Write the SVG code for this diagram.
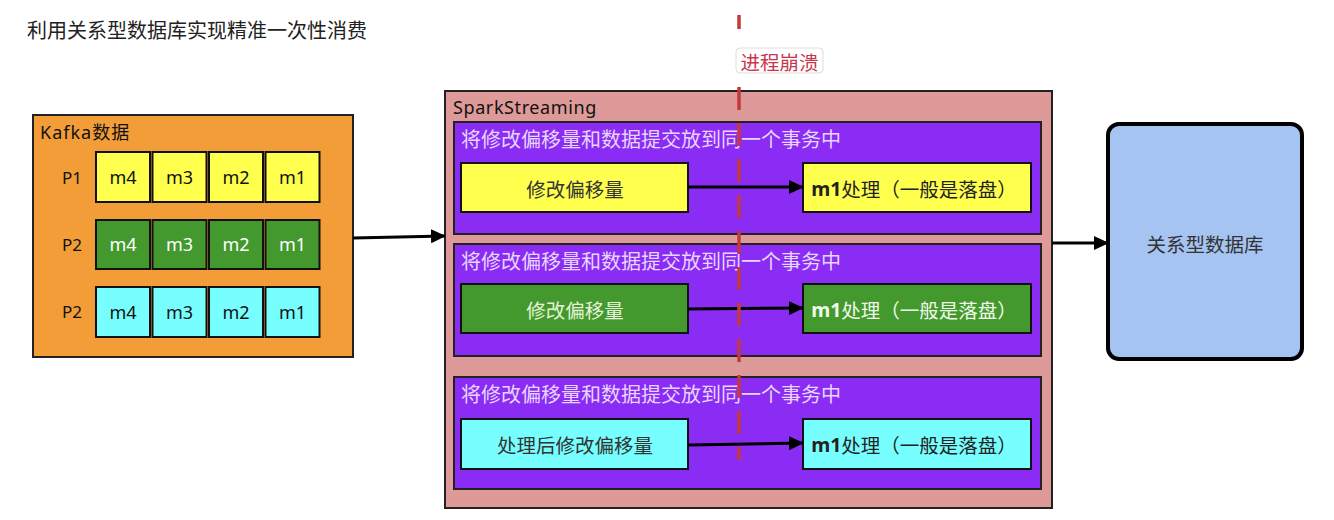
<svg xmlns="http://www.w3.org/2000/svg" width="1334" height="520" viewBox="0 0 1334 520">
<defs>
<marker id="ah2" markerWidth="15" markerHeight="14" refX="14" refY="7" orient="auto" markerUnits="userSpaceOnUse">
<path d="M0,0 L15,7 L0,14 Z" fill="#000"/>
</marker>
<style>
text{font-family:"Noto Sans","Noto Sans CJK SC",sans-serif;}
.cjk{font-family:"Noto Sans CJK SC",sans-serif;}
.cell{stroke:#111;stroke-width:2;}
.y{fill:#FFFF4D;}
.g{fill:#44992E;}
.c{fill:#77FFFF;}
.ct{font-size:18px;text-anchor:middle;dominant-baseline:central;}
.pl{font-size:17px;fill:#111;}
.tx{fill:#8B2CF5;stroke:#222;stroke-width:2;}
.tt{font-size:20px;fill:#E6D6FF;}
.ib{stroke:#111;stroke-width:2;}
.it{font-size:19.5px;text-anchor:middle;dominant-baseline:central;}
.conn{stroke:#000;stroke-width:3;fill:none;}
.dash{stroke:#C4393A;stroke-width:3.5;}
</style>
</defs>

<text x="27" y="38" class="cjk" font-size="20" fill="#222">利用关系型数据库实现精准一次性消费</text>

<g id="kafka">
<rect x="33" y="115" width="320" height="242" fill="#F29D38" stroke="#222" stroke-width="2"/>
<text x="40" y="139" font-size="18" letter-spacing="1" fill="#111">Kafka数据</text>
<text x="62" y="184" class="pl">P1</text>
<text x="62" y="251" class="pl">P2</text>
<text x="62" y="318" class="pl">P2</text>
<g id="p1">
<rect class="cell y" x="96" y="152" width="54" height="50"/><text class="ct" x="123" y="177" fill="#111">m4</text>
<rect class="cell y" x="152.5" y="152" width="54" height="50"/><text class="ct" x="179.5" y="177" fill="#111">m3</text>
<rect class="cell y" x="209" y="152" width="54" height="50"/><text class="ct" x="236" y="177" fill="#111">m2</text>
<rect class="cell y" x="265.5" y="152" width="54" height="50"/><text class="ct" x="292.5" y="177" fill="#111">m1</text>
</g>
<g id="p2">
<rect class="cell g" x="96" y="220" width="54" height="49"/><text class="ct" x="123" y="244" fill="#fff">m4</text>
<rect class="cell g" x="152.5" y="220" width="54" height="49"/><text class="ct" x="179.5" y="244" fill="#fff">m3</text>
<rect class="cell g" x="209" y="220" width="54" height="49"/><text class="ct" x="236" y="244" fill="#fff">m2</text>
<rect class="cell g" x="265.5" y="220" width="54" height="49"/><text class="ct" x="292.5" y="244" fill="#fff">m1</text>
</g>
<g id="p3">
<rect class="cell c" x="96" y="287" width="54" height="50"/><text class="ct" x="123" y="312" fill="#111">m4</text>
<rect class="cell c" x="152.5" y="287" width="54" height="50"/><text class="ct" x="179.5" y="312" fill="#111">m3</text>
<rect class="cell c" x="209" y="287" width="54" height="50"/><text class="ct" x="236" y="312" fill="#111">m2</text>
<rect class="cell c" x="265.5" y="287" width="54" height="50"/><text class="ct" x="292.5" y="312" fill="#111">m1</text>
</g>
</g>

<g id="spark">
<rect x="445" y="91" width="607" height="417" fill="#DE9A98" stroke="#222" stroke-width="2"/>
<text x="453" y="114" font-size="18" letter-spacing="0.6" fill="#111">SparkStreaming</text>
</g>

<g id="tx1">
<rect class="tx" x="454" y="122" width="587" height="112"/>
<text class="tt cjk" x="461" y="147">将修改偏移量和数据提交放到同一个事务中</text>
<rect class="ib y" x="461" y="163" width="227" height="49"/>
<text class="it cjk" x="575" y="188" fill="#333">修改偏移量</text>
<rect class="ib y" x="803" y="163" width="228" height="49"/>
<text class="it" x="914" y="188" fill="#222"><tspan font-weight="bold">m1</tspan><tspan class="cjk">处理（一般是落盘）</tspan></text>
</g>

<g id="tx2">
<rect class="tx" x="454" y="244" width="587" height="112"/>
<text class="tt cjk" x="461" y="269">将修改偏移量和数据提交放到同一个事务中</text>
<rect class="ib g" x="461" y="284" width="227" height="49"/>
<text class="it cjk" x="575" y="309" fill="#E4F2D8">修改偏移量</text>
<rect class="ib g" x="803" y="284" width="228" height="49"/>
<text class="it" x="914" y="309" fill="#F0F8EA"><tspan font-weight="bold">m1</tspan><tspan class="cjk">处理（一般是落盘）</tspan></text>
</g>

<g id="tx3">
<rect class="tx" x="454" y="377" width="587" height="112"/>
<text class="tt cjk" x="461" y="402">将修改偏移量和数据提交放到同一个事务中</text>
<rect class="ib c" x="461" y="419" width="227" height="50"/>
<text class="it cjk" x="575" y="444" fill="#333">处理后修改偏移量</text>
<rect class="ib c" x="803" y="419" width="228" height="50"/>
<text class="it" x="914" y="444" fill="#222"><tspan font-weight="bold">m1</tspan><tspan class="cjk">处理（一般是落盘）</tspan></text>
</g>

<g id="db">
<rect x="1108" y="124" width="194" height="235" rx="11" fill="#A6C4F2" stroke="#000" stroke-width="4"/>
<text x="1205" y="243" class="cjk" font-size="19.5" fill="#333" text-anchor="middle" dominant-baseline="central">关系型数据库</text>
</g>

<g id="connectors">
<line class="conn" x1="353" y1="238" x2="445" y2="236" marker-end="url(#ah2)"/>
<line class="conn" x1="1052" y1="243" x2="1108" y2="243" marker-end="url(#ah2)"/>
<line class="conn" x1="688" y1="187" x2="803" y2="187" marker-end="url(#ah2)"/>
<line class="conn" x1="688" y1="309" x2="803" y2="308" marker-end="url(#ah2)"/>
<line class="conn" x1="688" y1="445" x2="803" y2="443" marker-end="url(#ah2)"/>
</g>

<g id="crash">
<line class="dash" x1="739" y1="15" x2="739" y2="29"/>
<line class="dash" x1="739" y1="87" x2="739" y2="460" stroke-dasharray="23 13"/>
<rect x="736" y="48" width="87" height="25" rx="4" fill="#fff" stroke="#ddd" stroke-width="1"/>
<text x="779.5" y="61" class="cjk" font-size="19.5" fill="#C9364E" text-anchor="middle" dominant-baseline="central">进程崩溃</text>
</g>
</svg>
